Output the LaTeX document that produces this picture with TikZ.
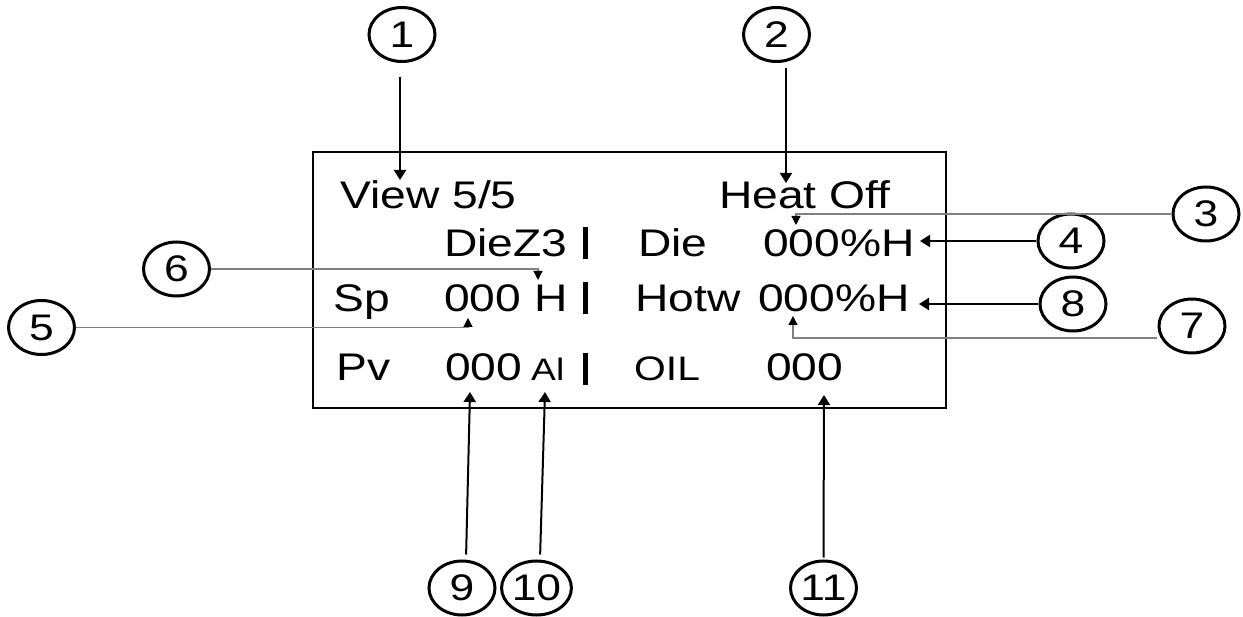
\documentclass[tikz,border=0pt]{standalone}
\usepackage{fontspec}
\setmainfont{Liberation Sans}
\usetikzlibrary{arrows.meta,shapes.geometric}
\tikzset{
  lcdtext/.style={anchor=base west,inner sep=0pt,xscale=1.2,font=\fontsize{38.5}{40}\selectfont},
  num/.style={draw,ellipse,line width=3pt,inner sep=0pt,minimum width=55pt,minimum height=54pt,xscale=1.2,font=\fontsize{37}{38}\selectfont},
  arr/.style={line width=2pt,-{Triangle[width=12pt,length=10pt]}},
  lead/.style={draw=gray,line width=1.2pt,-{Triangle[width=9pt,length=9pt,color=black]}},
  sep/.style={line width=5.5pt},
}
\begin{document}
\begin{tikzpicture}[x=1pt,y=-1pt]
\useasboundingbox (0,0) rectangle (1243,617);
\draw[line width=2pt] (313,152) rectangle (946,408);
% display text
\node[lcdtext] (view) at (340,209) {View 5/5};
\node[lcdtext] (heat) at (719,209) {Heat Off};
\node[lcdtext] (diez) at (444,257) {DieZ3};
\node[lcdtext] (die) at (638,257) {Die};
\node[lcdtext] (dieval) at (763,257) {000\%H};
\node[lcdtext] (sp) at (333,312) {Sp};
\node[lcdtext] (spval) at (444,312) {000 H};
\node[lcdtext] (hotw) at (635,312) {Hotw};
\node[lcdtext] (hotval) at (758,312) {000\%H};
\node[lcdtext] (pv) at (336,381) {Pv};
\node[lcdtext] (pvval) at (445,381) {000};
\node[lcdtext,font=\fontsize{31}{32}\selectfont] (alarm) at (531,381) {Al};
\node[lcdtext,font=\fontsize{34}{35}\selectfont] (oil) at (634,381) {OIL};
\node[lcdtext] (oilval) at (766,381) {000};
\draw[sep] (585.5,227) -- (585.5,259);
\draw[sep] (585.5,282) -- (585.5,314);
\draw[sep] (585.5,353) -- (585.5,385);
% numbered callouts
\node[num] (c1) at (402,34.5) {1};
\node[num] (c2) at (776.5,34.5) {2};
\node[num] (c3) at (1206,214) {3};
\node[num] (c4) at (1071,241) {4};
\node[num] (c5) at (41.5,327.5) {5};
\node[num] (c6) at (176.5,269) {6};
\node[num] (c7) at (1192,326) {7};
\node[num] (c8) at (1073,304) {8};
\node[num] (c9) at (462,588) {9};
\node[num] (c10) at (536.5,588) {10};
\node[num] (c11) at (823.5,588) {11};
% arrow tips
\coordinate (t1) at (400,180);
\coordinate (t2) at (786,183);
\coordinate (t3) at (796,225);
\coordinate (t4) at (920,241);
\coordinate (t5) at (468,318);
\coordinate (t6) at (538,280);
\coordinate (t7) at (793,316);
\coordinate (t8) at (919,304);
\coordinate (t9) at (470,392);
\coordinate (t10) at (545,392);
\coordinate (t11) at (824,395);
\draw[arr,shorten <=14pt] (c1.south -| t1) -- (t1);
\draw[arr,shorten <=5pt] (c2.south -| t2) -- (t2);
\draw[arr] (c4.west) -- (t4);
\draw[arr] (c8.west) -- (t8);
\draw[arr,shorten <=5pt] ([xshift=4pt]c9.north) -- (t9);
\draw[arr,shorten <=5pt] ([xshift=3.5pt]c10.north) -- (t10);
\draw[arr,shorten <=2pt] (c11.north) -- (t11);
\draw[lead] (c3.west) -| (t3);
\draw[lead] (c5.east) -| (t5);
\draw[lead] (c6.east) -| (t6);
\draw[lead] ([yshift=-12pt]c7.west) -| (t7);
\end{tikzpicture}
\end{document}
